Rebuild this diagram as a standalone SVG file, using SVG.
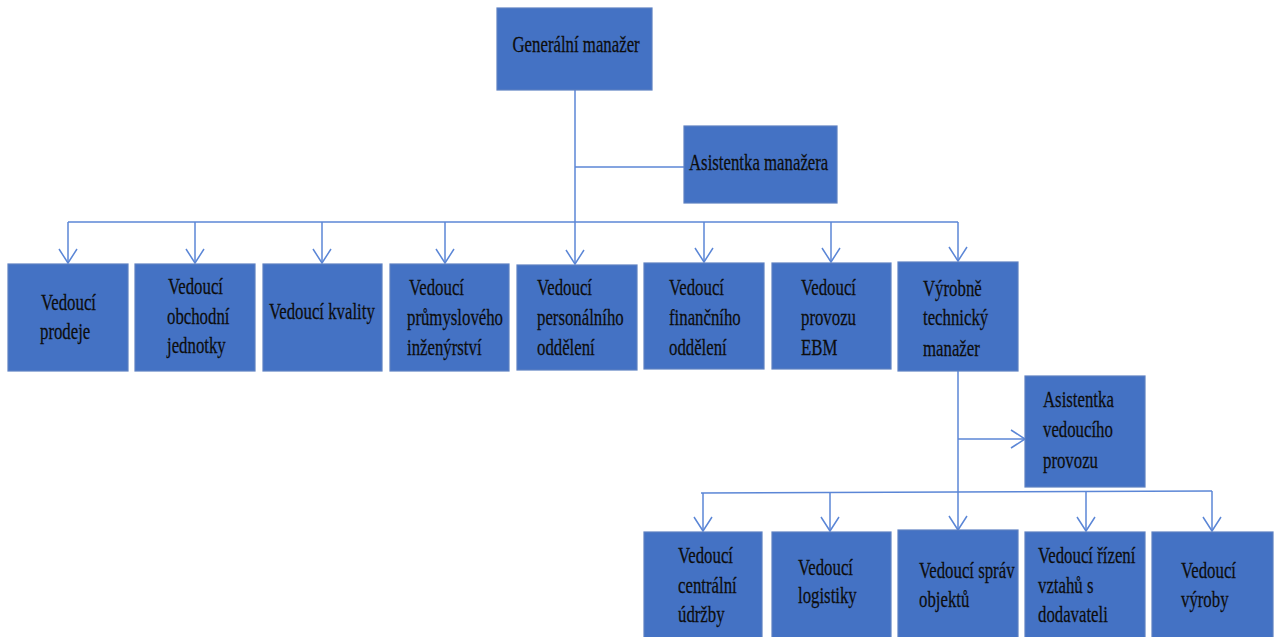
<svg xmlns="http://www.w3.org/2000/svg" width="1275" height="637" viewBox="0 0 1275 637">
<style>
.box{fill:#4472C4;stroke:#5d80c2;stroke-width:1.2}
.t{font-family:"Liberation Serif","Times New Roman",serif;font-size:23px;fill:#0d0d0d;stroke:#0d0d0d;stroke-width:0.25}
.c{fill:none;stroke:#5b86d6;stroke-width:1.5}
</style>
<defs>
<marker id="arr" markerUnits="userSpaceOnUse" markerWidth="18" markerHeight="20" viewBox="-1 -1 18 20" refX="14" refY="9" orient="auto">
<path d="M0,0 L14,9 L0,18" fill="none" stroke="#5b86d6" stroke-width="1.5"/>
</marker>
</defs>
<rect width="1275" height="637" fill="#fff"/>
<g id="connectors">
<path class="c" d="M575,90 V222"/>
<path class="c" d="M575,167 H684"/>
<path class="c" d="M68,222 H958"/>
<path class="c" marker-end="url(#arr)" d="M68,222 V263"/>
<path class="c" marker-end="url(#arr)" d="M195,222 V263"/>
<path class="c" marker-end="url(#arr)" d="M322,222 V263"/>
<path class="c" marker-end="url(#arr)" d="M445,222 V263"/>
<path class="c" marker-end="url(#arr)" d="M575,222 V264"/>
<path class="c" marker-end="url(#arr)" d="M704,222 V262"/>
<path class="c" marker-end="url(#arr)" d="M831,222 V262"/>
<path class="c" marker-end="url(#arr)" d="M958,222 V261"/>
<path class="c" d="M958,371 V493"/>
<path class="c" marker-end="url(#arr)" d="M958,439 H1025"/>
<path class="c" d="M701,493 L1212,491"/>
<path class="c" marker-end="url(#arr)" d="M703,493 V531"/>
<path class="c" marker-end="url(#arr)" d="M830,493 V531"/>
<path class="c" marker-end="url(#arr)" d="M958,493 V530"/>
<path class="c" marker-end="url(#arr)" d="M1086,492 V531"/>
<path class="c" marker-end="url(#arr)" d="M1212,491 V531"/>
</g>
<g id="gm"><rect class="box" x="497" y="8" width="155" height="82"/>
<text class="t" transform="translate(512.5 52) scale(0.73 1)">Generální manažer</text></g>
<g id="asistentka-manazera"><rect class="box" x="684" y="126" width="153" height="77"/>
<text class="t" transform="translate(689 170) scale(0.73 1)">Asistentka manažera</text></g>
<g id="prodej"><rect class="box" x="8" y="264" width="120" height="107"/>
<text class="t" transform="translate(41 310) scale(0.73 1)">Vedoucí</text>
<text class="t" transform="translate(40 339) scale(0.73 1)">prodeje</text></g>
<g id="obchod"><rect class="box" x="135" y="264" width="120" height="107"/>
<text class="t" transform="translate(168 294) scale(0.73 1)">Vedoucí</text>
<text class="t" transform="translate(167 324) scale(0.73 1)">obchodní</text>
<text class="t" transform="translate(167 353) scale(0.73 1)">jednotky</text></g>
<g id="kvalita"><rect class="box" x="263" y="264" width="119" height="107"/>
<text class="t" transform="translate(269 319) scale(0.73 1)">Vedoucí kvality</text></g>
<g id="inzenyrstvi"><rect class="box" x="390" y="264" width="119" height="107"/>
<text class="t" transform="translate(409 295) scale(0.73 1)">Vedoucí</text>
<text class="t" transform="translate(407 325) scale(0.73 1)">průmyslového</text>
<text class="t" transform="translate(407 355) scale(0.73 1)">inženýrství</text></g>
<g id="personalni"><rect class="box" x="517" y="265" width="120" height="105"/>
<text class="t" transform="translate(537 295) scale(0.73 1)">Vedoucí</text>
<text class="t" transform="translate(537 325) scale(0.73 1)">personálního</text>
<text class="t" transform="translate(537 355) scale(0.73 1)">oddělení</text></g>
<g id="financni"><rect class="box" x="644" y="263" width="120" height="106"/>
<text class="t" transform="translate(669 295) scale(0.73 1)">Vedoucí</text>
<text class="t" transform="translate(669 325) scale(0.73 1)">finančního</text>
<text class="t" transform="translate(669 355) scale(0.73 1)">oddělení</text></g>
<g id="ebm"><rect class="box" x="772" y="263" width="119" height="106"/>
<text class="t" transform="translate(801 295) scale(0.73 1)">Vedoucí</text>
<text class="t" transform="translate(801 325) scale(0.73 1)">provozu</text>
<text class="t" transform="translate(801 355) scale(0.73 1)">EBM</text></g>
<g id="vtm"><rect class="box" x="898" y="262" width="120" height="109"/>
<text class="t" transform="translate(923 296) scale(0.73 1)">Výrobně</text>
<text class="t" transform="translate(923 325) scale(0.73 1)">technický</text>
<text class="t" transform="translate(923 356) scale(0.73 1)">manažer</text></g>
<g id="asistentka-provozu"><rect class="box" x="1025" y="376" width="120" height="111"/>
<text class="t" transform="translate(1043 407) scale(0.73 1)">Asistentka</text>
<text class="t" transform="translate(1043 437) scale(0.73 1)">vedoucího</text>
<text class="t" transform="translate(1043 468) scale(0.73 1)">provozu</text></g>
<g id="udrzba"><rect class="box" x="644" y="532" width="118" height="110"/>
<text class="t" transform="translate(678 563) scale(0.73 1)">Vedoucí</text>
<text class="t" transform="translate(678 593) scale(0.73 1)">centrální</text>
<text class="t" transform="translate(678 622) scale(0.73 1)">údržby</text></g>
<g id="logistika"><rect class="box" x="772" y="532" width="119" height="110"/>
<text class="t" transform="translate(798 575) scale(0.73 1)">Vedoucí</text>
<text class="t" transform="translate(798 603) scale(0.73 1)">logistiky</text></g>
<g id="spravy"><rect class="box" x="898" y="530" width="120" height="112"/>
<text class="t" transform="translate(919 578) scale(0.73 1)">Vedoucí správ</text>
<text class="t" transform="translate(919 607) scale(0.73 1)">objektů</text></g>
<g id="dodavatele"><rect class="box" x="1025" y="532" width="120" height="110"/>
<text class="t" transform="translate(1038 563) scale(0.73 1)">Vedoucí řízení</text>
<text class="t" transform="translate(1038 593) scale(0.73 1)">vztahů s</text>
<text class="t" transform="translate(1038 622) scale(0.73 1)">dodavateli</text></g>
<g id="vyroba"><rect class="box" x="1152" y="532" width="121" height="110"/>
<text class="t" transform="translate(1181 578) scale(0.73 1)">Vedoucí</text>
<text class="t" transform="translate(1181 607) scale(0.73 1)">výroby</text></g>
</svg>
